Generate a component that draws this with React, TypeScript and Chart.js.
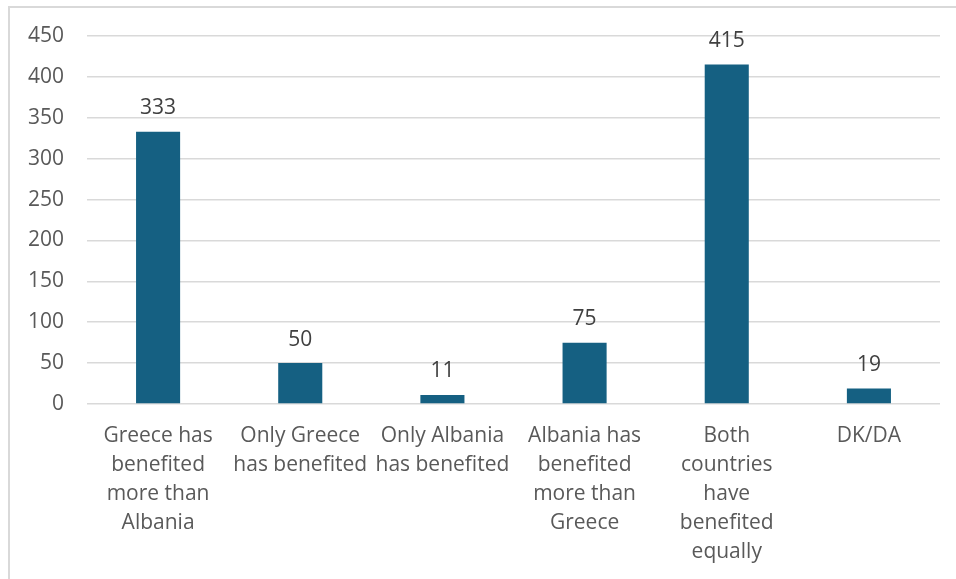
import React, { useEffect, useRef } from "react";
import { Chart, registerables } from "chart.js";

Chart.register(...registerables);

const categories: string[][] = [
  ["Greece has", "benefited", "more than", "Albania"],
  ["Only Greece", "has benefited"],
  ["Only Albania", "has benefited"],
  ["Albania has", "benefited", "more than", "Greece"],
  ["Both", "countries", "have", "benefited", "equally"],
  ["DK/DA"],
];
const values: number[] = [333, 50, 11, 75, 415, 19];
const yMin = 0;
const yMax = 450;
const yStep = 50;

const FONT = "'Open Sans', sans-serif";

const labelPlugin = {
  id: "valueLabels",
  afterDatasetsDraw(chart: any) {
    const ctx = chart.ctx;
    const meta = chart.getDatasetMeta(0);
    ctx.save();
    ctx.font = `21px ${FONT}`;
    ctx.fillStyle = "#404040";
    ctx.textAlign = "center";
    ctx.textBaseline = "bottom";
    meta.data.forEach((bar: any, i: number) => {
      ctx.fillText(String(values[i]), bar.x, bar.y - 13);
    });
    ctx.restore();
  },
};

export default function App() {
  const ref = useRef<HTMLCanvasElement | null>(null);
  useEffect(() => {
    if (!ref.current) return;
    const chart = new Chart(ref.current, {
      type: "bar",
      data: {
        labels: categories,
        datasets: [
          {
            data: values,
            backgroundColor: "#156082",
            barPercentage: 0.62,
            categoryPercentage: 0.5,
          },
        ],
      },
      options: {
        animation: false,
        responsive: false,
        maintainAspectRatio: false,
        layout: { padding: { top: 36, right: 16, left: 0, bottom: 0 } },
        plugins: {
          legend: { display: false },
          tooltip: { enabled: false },
        },
        scales: {
          x: {
            grid: { display: false, drawTicks: false },
            border: { display: false },
            ticks: {
              autoSkip: false,
              maxRotation: 0,
              minRotation: 0,
              padding: 18,
              color: "#595959",
              font: { family: FONT, size: 21, lineHeight: 1.38 },
            },
            afterFit: (s: any) => {
              s.height = 175;
            },
          },
          y: {
            min: yMin,
            max: yMax,
            grid: { color: "#d9d9d9", lineWidth: 1.5, drawTicks: false },
            border: { display: false },
            ticks: {
              stepSize: yStep,
              padding: 23,
              color: "#595959",
              font: { family: FONT, size: 21 },
            },
            afterFit: (s: any) => {
              s.width = 87;
            },
          },
        },
      },
      plugins: [labelPlugin],
    });
    return () => chart.destroy();
  }, []);
  return (
    <div style={{ position: "absolute", left: 0, top: 0, width: 956, height: 579, background: "#fff" }}>
      <div
        style={{
          position: "absolute",
          left: 8,
          top: 6,
          width: 960,
          height: 600,
          borderLeft: "2px solid #d9d9d9",
          borderTop: "2px solid #d9d9d9",
        }}
      />
      <canvas ref={ref} width={956} height={579} style={{ position: "absolute", left: 0, top: 0 }} />
    </div>
  );
}
